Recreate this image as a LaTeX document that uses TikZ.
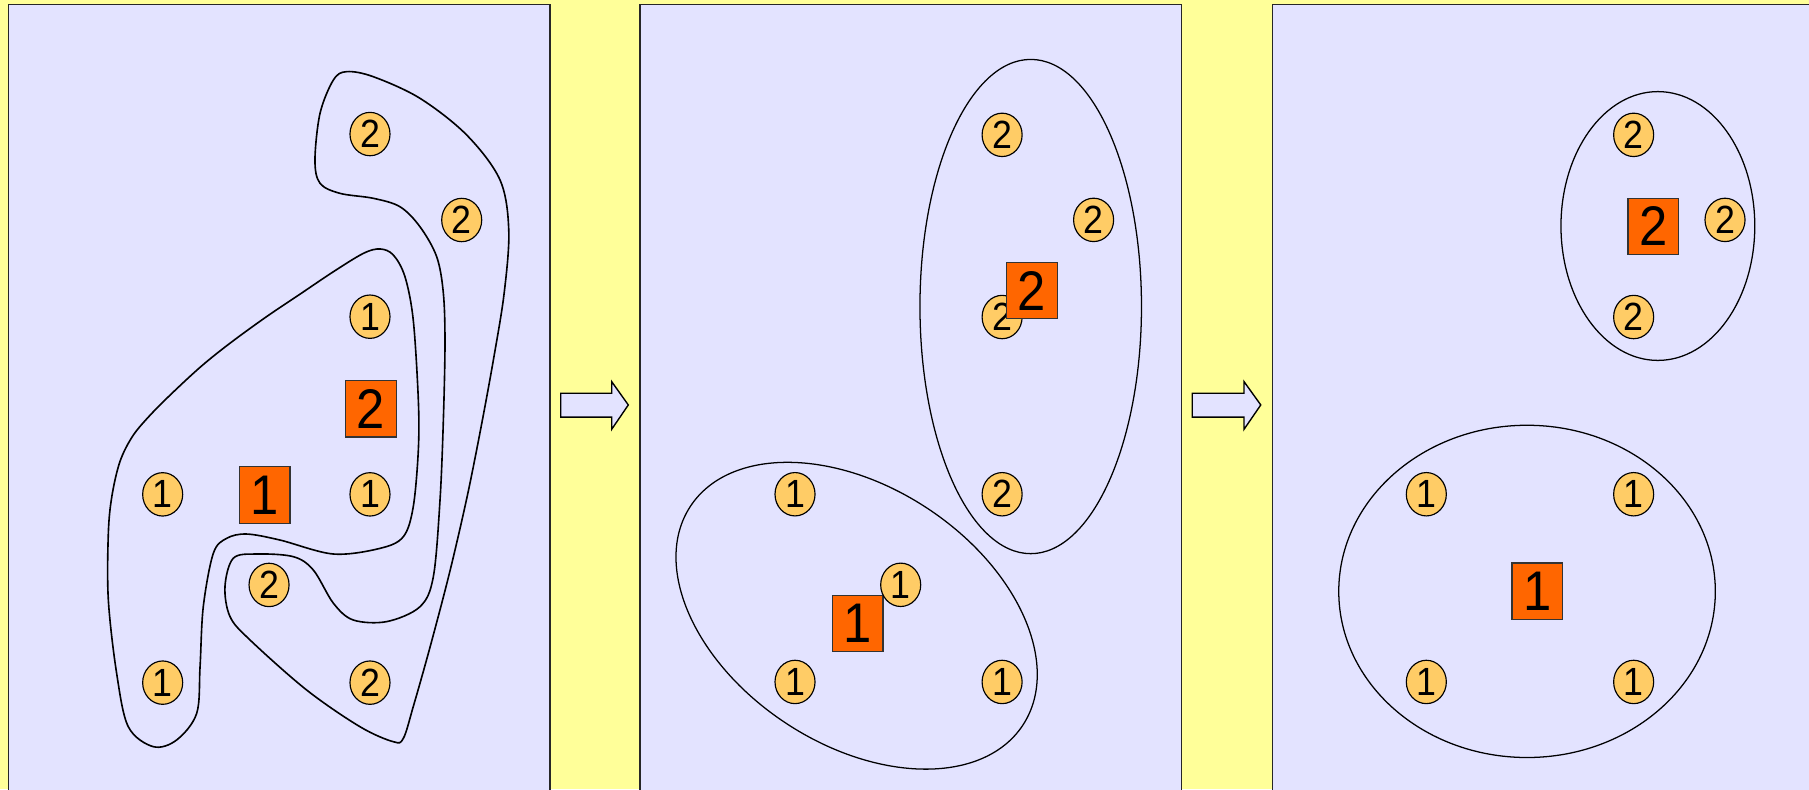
\documentclass[tikz,border=0pt]{standalone}
\usepackage{fontspec}
\setmainfont{Liberation Sans}
\usetikzlibrary{shapes.geometric}
\definecolor{bgyellow}{RGB}{255,255,153}
\definecolor{panelfill}{RGB}{227,227,255}
\definecolor{dotfill}{RGB}{255,204,102}
\definecolor{sqfill}{RGB}{255,102,0}
\newcommand{\talltext}[1]{\scalebox{1}[1.1]{#1}}
\tikzset{
 dotnode/.style={ellipse, minimum width=34.7pt, minimum height=37.6pt, inner sep=0pt, fill=dotfill, draw=black, line width=1pt, font=\fontsize{31}{31}\selectfont},
 sqnode/.style={rectangle, minimum width=44pt, minimum height=49pt, inner sep=0pt, fill=sqfill, draw=black!80, line width=1pt, font=\fontsize{44}{44}\selectfont},
 panel/.style={fill=panelfill, draw=black!85, line width=1.2pt},
 contour/.style={draw=black, line width=1.4pt},
 grouping/.style={draw=black, line width=1.1pt},
 blockarrow/.style={fill=panelfill, draw=black, line width=1.2pt, line join=miter},
}
\begin{document}
\begin{tikzpicture}[x=1pt,y=-1pt]
\useasboundingbox (0,0) rectangle (1568,684);
\clip (0,0) rectangle (1568,684);
\fill[bgyellow] (0,0) rectangle (1568,684);
% panels
\draw[panel] (7.6,4) rectangle (476.7,700);
\draw[panel] (554.8,4) rectangle (1024.3,700);
\draw[panel] (1102.8,4) rectangle (1590,700);
% block arrows
\draw[blockarrow] (486,340.9) -- (530.2,340.9) -- (530.2,330.8) -- (544.6,351) -- (530.2,372.1) -- (530.2,361.5) -- (486,361.5) -- cycle;
\draw[blockarrow] (1033.4,340.9) -- (1078.3,340.9) -- (1078.3,330.8) -- (1092.8,351) -- (1078.3,372.1) -- (1078.3,361.5) -- (1033.4,361.5) -- cycle;

% ---------- panel 1 contours ----------
\draw[contour] plot[smooth cycle, tension=0.55] coordinates {
 (329.4,215.8) (340.9,221) (351,239.8) (358.2,277.4) (362.6,346.7) (362.6,390)
 (358.2,439.2) (349.6,465.2) (329.4,475.3) (288.9,480.2) (242.7,468.1) (213.8,462.9)
 (196.5,466.6) (184.9,479.6) (176.2,525.9) (173.4,577.9) (170.5,618.3) (153.1,641.4)
 (132.9,647.2) (111.2,629.9) (101.1,583.6) (93.9,520) (93.9,462.3) (97,430)
 (104,400) (115,378) (130,360) (150,340) (175,317) (200,297) (231,274.5)
 (260,255) (289,235.5) (315,219.6)};
\draw[contour] plot[smooth cycle, tension=0.55] coordinates {
 (300.5,62.1) (323.6,66.5) (364,85.2) (404.5,117) (433.4,156) (441,200)
 (437,254) (428,310) (417,370) (405,430) (390,495) (373,560) (358.2,612.5)
 (349.6,640) (340.9,642.9) (312,629.9) (265.8,598.1) (216.7,554.7) (199.4,534.5)
 (195,508.5) (202.2,483.9) (222.5,480.2) (254.2,482.5) (271.6,494.1) (289,522.9)
 (306.2,537.4) (335.2,538.8) (364,525.9) (375.6,499.9) (381.4,433.4) (384.3,364)
 (385.7,297.6) (384.3,254.2) (378.5,222.5) (364,196.5) (346.7,179.2) (323.6,171.9)
 (294.7,167.6) (277.4,158.9) (273,138.7) (277.4,98.2) (289,69.3)};

% ---------- panel 1 nodes ----------
\node[dotnode] (a1) at (320.7,116.2) {\talltext{2}};
\node[dotnode] (a2) at (400.2,190.7) {\talltext{2}};
\node[dotnode] (a3) at (320.7,274.5) {\talltext{1}};
\node[sqnode]  (a4) at (321.6,354.3) {\talltext{2}};
\node[dotnode] (a5) at (141,428.5) {\talltext{1}};
\node[sqnode]  (a6) at (229.4,428.9) {\talltext{1}};
\node[dotnode] (a7) at (320.7,428.5) {\talltext{1}};
\node[dotnode] (a8) at (233.2,507) {\talltext{2}};
\node[dotnode] (a9) at (141,591.7) {\talltext{1}};
\node[dotnode] (a10) at (320.7,591.7) {\talltext{2}};

% ---------- panel 2 ----------
\draw[grouping] (893.4,265.7) ellipse [x radius=96pt, y radius=214.2pt];
\draw[grouping, rotate around={-33.4:(742.5,533.7)}] (742.5,533.7) ellipse [x radius=172.5pt, y radius=111.5pt];
\node[dotnode] (b1) at (868.6,116.9) {\talltext{2}};
\node[dotnode] (b2) at (947.9,190.6) {\talltext{2}};
\node[dotnode] (b3) at (868.6,274.8) {\talltext{2}};
\node[sqnode]  (b4) at (894.3,251.9) {\talltext{2}};
\node[dotnode] (b5) at (868.6,428.4) {\talltext{2}};
\node[dotnode] (b6) at (689.1,428.4) {\talltext{1}};
\node[sqnode]  (b7) at (743.3,540.5) {\talltext{1}};
\node[dotnode] (b8) at (780.7,506.9) {\talltext{1}};
\node[dotnode] (b9) at (689.1,591.1) {\talltext{1}};
\node[dotnode] (b10) at (868.6,591.1) {\talltext{1}};

% ---------- panel 3 ----------
\draw[grouping] (1437,195.9) ellipse [x radius=84pt, y radius=116.5pt];
\draw[grouping] (1323.6,512.6) ellipse [x radius=163.2pt, y radius=144pt];
\node[dotnode] (c1) at (1416,116.9) {\talltext{2}};
\node[sqnode]  (c2) at (1433.1,196.3) {\talltext{2}};
\node[dotnode] (c3) at (1495.2,190.6) {\talltext{2}};
\node[dotnode] (c4) at (1416,274.8) {\talltext{2}};
\node[dotnode] (c5) at (1236.3,428.4) {\talltext{1}};
\node[dotnode] (c6) at (1416,428.4) {\talltext{1}};
\node[sqnode]  (c7) at (1332.5,512.5) {\talltext{1}};
\node[dotnode] (c8) at (1236.3,591.1) {\talltext{1}};
\node[dotnode] (c9) at (1416,591.1) {\talltext{1}};
\end{tikzpicture}
\end{document}
